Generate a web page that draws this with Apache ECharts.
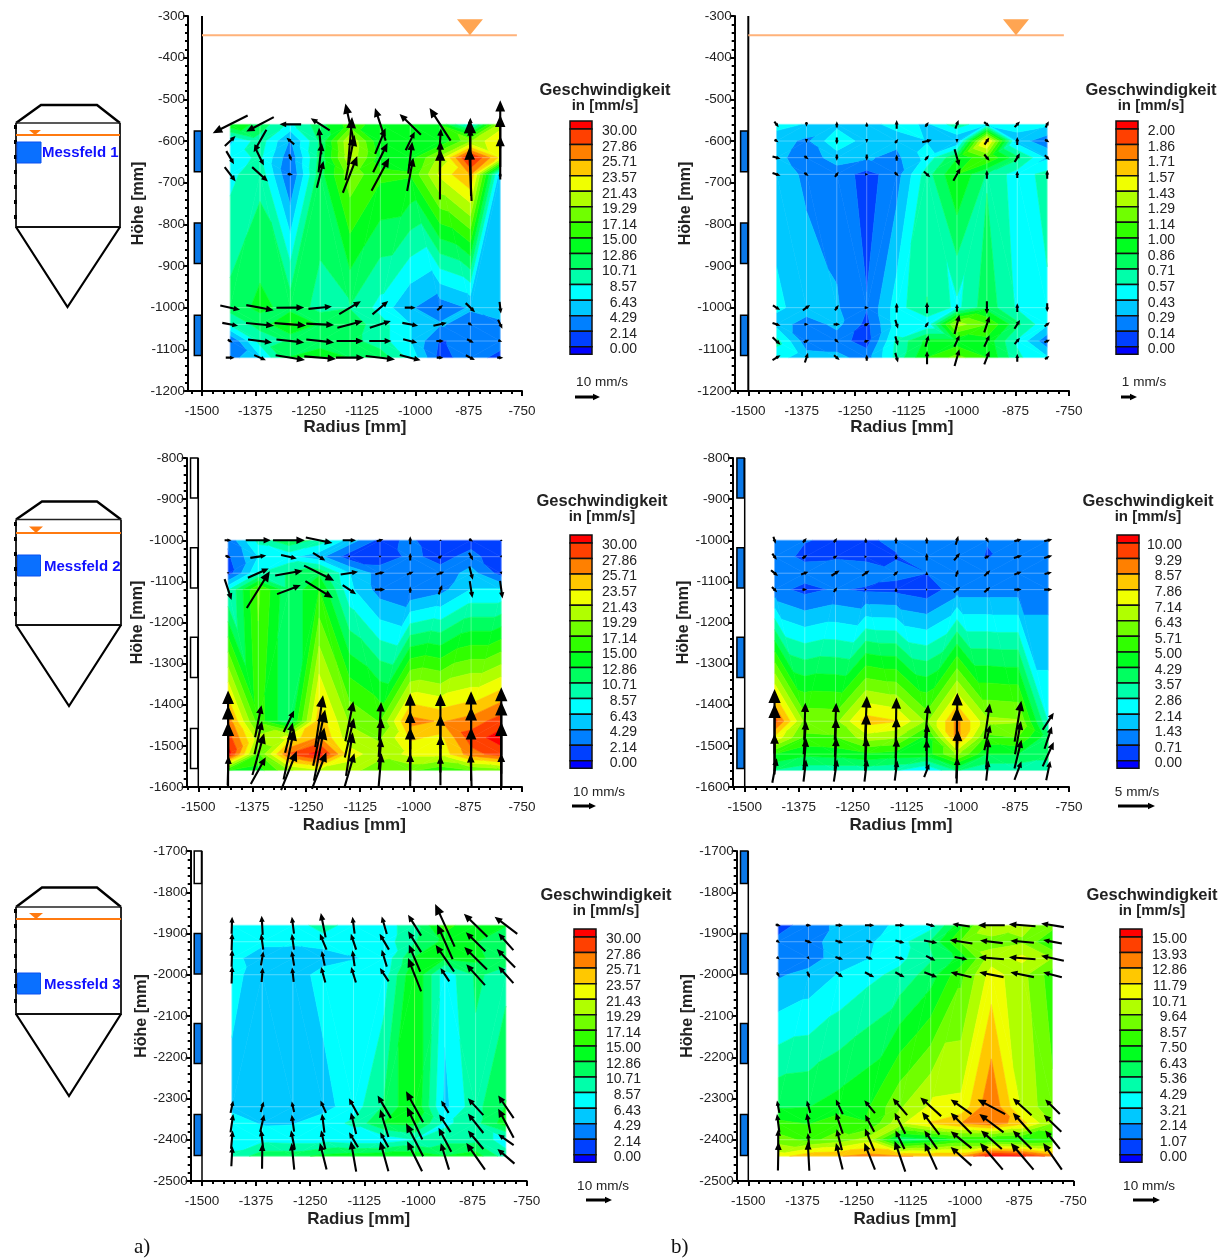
<!DOCTYPE html>
<html><head><meta charset="utf-8">
<style>html,body{margin:0;padding:0;background:#fff}#c{width:1224px;height:1258px}</style>
<script src="https://cdn.jsdelivr.net/npm/echarts@6/dist/echarts.min.js"></script>
</head><body><div id="c"></div>
<script>
// ---- measurement grid ----
const colsTop=[-1434,-1364,-1293,-1223,-1153,-1082,-1012,-942,-871,-801];
const colsRest=[-1431,-1361,-1290,-1220,-1150,-1079,-1009,-939,-868,-798];
const rows1=[-560,-600,-640,-680,-1000,-1040,-1080,-1120];
const rows2=[-1000,-1040,-1080,-1120,-1440,-1480,-1520,-1560];
const rows3=[-1880,-1920,-1960,-2000,-2320,-2360,-2400,-2440];
const xTicks=[-1500,-1375,-1250,-1125,-1000,-875,-750];
// ---- contour colour scale ----
const bandColors=['#0000ff','#0040ff','#0080ff','#00c8ff','#00ffff','#00ffaa','#00ff60','#00ff20','#30ff00','#70ff00','#b0ff00','#f0ff00','#ffc800','#ff8000','#ff4000','#ff0000'];
const legend30=['30.00','27.86','25.71','23.57','21.43','19.29','17.14','15.00','12.86','10.71','8.57','6.43','4.29','2.14','0.00'];
const legend2=['2.00','1.86','1.71','1.57','1.43','1.29','1.14','1.00','0.86','0.71','0.57','0.43','0.29','0.14','0.00'];
const legend10=['10.00','9.29','8.57','7.86','7.14','6.43','5.71','5.00','4.29','3.57','2.86','2.14','1.43','0.71','0.00'];
const legend15=['15.00','13.93','12.86','11.79','10.71','9.64','8.57','7.50','6.43','5.36','4.29','3.21','2.14','1.07','0.00'];
// ---- window positions (mm) ----
const windows1=[[-576,-674],[-797,-894],[-1018,-1115]];
const windows2=[[-800,-897],[-1018,-1116],[-1236,-1334],[-1458,-1555]];
const windows3=[[-1700,-1779],[-1900,-1998],[-2118,-2215],[-2339,-2438]];
// ---- speed field, rows top to bottom (mm/s) ----
const field1a=[[14.7,12,8,12,16,14,14,14.5,7,20],[6,9.7,4,11,21.5,13,13,13,19,24],[7.5,9,2.7,11.5,21,14,14,20,31,23],[8,10,2,12,18.5,15.5,15.2,22,26,5],[11.5,13.5,12,10,10.6,7.8,4.5,3,4.5,5],[9,11.5,15.5,12.5,12,9.5,6.5,4.5,3.5,4],[2,9.5,11,11.5,11.5,9.5,6.5,1.9,3,3],[3.5,6,13,14.5,12.8,12,8,1.5,3,1.5]];
const field1b=[[.47,.42,.38,.36,.5,.4,.66,.44,.5,.45],[.36,.25,.55,.35,.32,.42,.28,1.65,.35,.2],[.32,.22,.34,.3,.25,.48,.85,1.15,.75,.4],[.38,.25,.22,.09,.22,.65,1,.7,.5,.62],[.45,.38,.3,.15,.5,.72,.53,.8,.55,.55],[.38,.2,.33,.1,.5,.45,1.35,1.15,.75,.45],[.62,.2,.2,.08,.6,.9,.9,.95,.55,.18],[.48,.35,.33,.22,.62,1,1.2,1,.6,.45]];
const field2a=[[2.5,9.3,12.5,10,5.5,1.5,2.5,.7,1.3,1],[1.8,6.5,7,5,1,.9,2.6,1.5,2.8,.8],[1,8.5,11,12.5,6.5,3.3,2.5,2.8,5.2,1.2],[8.3,17.5,11,15,7,3.3,2.3,3.5,6.5,6.5],[27,16,11,25,19,17,26.5,25.5,26.6,29],[29,20,22,26,20,19,24,23,29,31],[31,17,28,31,22.5,20,22,22,27,29],[15,14,19,21,20,18,17.5,15.5,17,18]];
const field2b=[[1,.75,.6,.65,.8,.9,1.2,.75,1,1.15],[1.05,.55,.6,.5,.68,1,1.25,.65,1.2,1.15],[1.2,1.05,1.3,1.2,.85,.72,1,1.15,1.1,1.05],[.95,.5,.8,.6,.55,.3,1.1,1.1,1.1,1.1],[9.6,6.25,6.2,8.2,7.9,6.3,8.8,6.6,6.5,2.8],[7.7,5.5,5.6,6.8,6.5,4.6,8.8,5.5,5.7,3.8],[5,4.5,4.6,4.9,4.7,4.6,6.6,4.3,4.3,3.9],[3.5,3.1,3.1,3.1,2.9,2.1,3.6,3,3,3]];
const field3a=[[7,7.3,7,10,7,7.5,10,16,13,13],[6.8,6.7,6.7,7,7,7.5,10.5,13.5,13,11],[6.8,5.8,5.6,5.7,6.3,7,13,13,13.5,11.5],[7,5.5,5.5,7.1,7.3,7.5,15,7.2,11,10],[5.8,4.8,4.8,5.7,7.5,11,15,5.8,10,13],[7.5,6.2,6.3,7.5,9,13,13.5,8,10,14],[7.5,7.8,7.6,7.6,7,7,8.5,10,10,7.5],[9,12,12,13.5,14,14.5,14.5,13,14,9.5]];
const field3b=[[.6,1.6,2.4,2.9,3.4,3.8,7.2,10.5,10,9],[1.4,1.6,2.8,3.1,3.8,5.5,8.7,9.2,9.5,7.5],[1.4,1.6,2.7,3.2,4,5.2,6.8,10.2,11,9.6],[2,2.5,3.3,4,4.6,5.9,8.3,11.2,10,8],[6.3,6.4,6.9,7.5,9.5,10.9,11,13.8,10.5,8.8],[7.8,7.4,8.2,7.6,10.5,11.9,12.8,13.6,12.2,9.6],[9,8.3,9,10.2,5.5,6.3,7.5,7.5,7.2,7.5],[11.3,12.6,12.8,13.3,12.9,12.8,12.8,15.6,15.2,13.5]];
// ---- velocity components, radial (u) and vertical (w), mm/s ----
const u1a=[[-13.1,-10.3,-8.1,-7.1,-3.5,-4,-8,-7.9,0,0],[4,-4.8,-2.9,-.9,1.5,3.9,3.4,.6,0,0],[2.9,2.9,.9,1.2,3.4,5.4,1.5,.2,-.5,0],[4.1,5.9,2,2.5,5.4,6.6,2.3,.1,-.9,0],[7.4,10.3,10.4,8.8,8.1,5.9,4.1,2.1,3.5,.5],[5.9,10.5,11.8,10.4,9.5,7.9,5.9,5,1.6,1.6],[1.8,9,10.4,10.4,10.1,8.3,5.3,2.8,2.5,1.5],[3.3,4.4,11,11.9,10.6,11,7.8,2.5,3.4,2.3]];
const w1a=[[-6.6,-5.4,0,4.5,15.6,12.2,7.8,12.2,5,18],[3.8,-8.4,2.5,10,18,9.6,6.9,9.4,9.5,19.4],[-4.9,-5.9,-2.5,11,16.9,10.9,11.9,12.5,28.7,16.3],[-5.4,-5.4,-.3,10,13.8,12.3,12.5,18.8,20,2],[-1.6,-1.9,.1,.9,4.9,5,0,2,-3.4,-4.4],[-1.1,-1,-.9,-.5,2.5,2.5,-1.1,1.1,-1,-3.4],[-1.1,-1.1,-1.1,-1.1,0,0,-1.3,0,-1.3,-.5],[0,-1.9,-1.8,-1,0,-1.3,-2,0,-1.8,0]];
const u1b=[[.27,0,0,0,0,.2,.2,.35,.33,.2],[.25,0,0,0,.2,.6,0,.3,0,.27],[.5,.27,0,0,0,.25,.3,.33,.33,.3],[.5,.27,.23,.2,.25,.4,.45,0,0,0],[.45,.45,.23,.27,0,0,0,0,0,0],[.5,.27,.4,.3,.17,.2,.3,.33,.35,.33],[.5,.33,.25,.3,.17,.2,.33,.33,.33,.35],[.5,.2,.35,0,.17,0,.3,.33,0,.27]];
const w1b=[[-.35,-.3,.4,.3,.55,.3,.55,-.27,.35,.4],[-.17,-.25,-.45,-.25,.25,.17,-.25,.45,.5,-.17],[-.15,-.2,-.4,-.4,.4,.3,-1.05,-.4,.55,-.3],[-.17,-.2,.33,0,-.25,-.35,.8,.55,.45,.55],[-.3,.33,.33,0,.6,.7,.5,-.8,.55,-.55],[-.17,0,0,.15,-.55,.33,1.2,1,.55,.27],[-.48,.15,-.22,.1,-.58,.72,.72,.72,.4,.17],[.3,.6,-.3,.4,-.6,.83,1.05,.83,.5,.2]];
const u2a=[[2.6,9.4,11.9,10,5,2.5,0,0,1.5,0],[2,6,5.9,4.6,.5,0,0,1.5,1.5,.5],[0,7.8,10.3,11.3,6.5,3.5,2.5,2.9,1.3,.3],[2.6,8.6,8.9,10.3,5,3.8,0,1.3,1,.9],[0,2.4,3.9,2.9,3,.8,0,0,0,0],[0,2.8,2.9,4.5,3.4,1,0,0,0,0],[0,4.4,4,3.9,2.5,.9,0,0,0,0],[.3,5.6,5.9,5.4,3.8,1.1,0,0,-.4,0]];
const w2a=[[0,0,0,-2,0,.7,3,.6,-.9,.5],[-.8,.9,-1.3,-2.8,-.5,-.7,2.8,1,-2.9,-.5],[-.7,3.5,1.8,-5.6,1,.9,1.1,1.1,-5,-1],[-7.8,13.8,3.4,-6.3,-3.4,0,2.4,3.5,-6.3,-6.6],[23,12,8.1,19.4,15,14.4,21,20.6,22.5,25.4],[24,12.5,11.3,21,14.8,14.4,20,16.9,23,27],[24,15.6,19,20,16.3,11.6,20,13.8,20,24],[11,10,14.6,13.8,13,13,13,11,12.5,13]];
const u2b=[[.3,.5,.45,0,0,0,.35,.4,1,1.1],[.6,.65,.55,.35,0,0,.8,.7,1.1,1.1],[.95,1,1.1,1,.6,0,.3,.8,1,1],[.7,.65,.45,.3,0,.2,.85,.8,1,1.1],[0,.15,.2,.3,.1,.4,.1,.7,.9,1.5],[0,.3,.15,.15,.1,.15,0,.8,.8,1],[0,.35,.2,.2,.15,0,.2,.3,.95,1.5],[.6,.35,.45,.35,.35,.7,.1,.3,.95,.55]];
const w2b=[[-.95,.6,.6,.7,.9,.9,1.2,-.7,.3,.3],[-.85,.45,.35,0,.7,1,1,.35,.35,.35],[-.8,.35,.7,.7,.6,.5,.95,.8,.4,.25],[-.7,0,.65,0,.6,0,.75,.7,0,0],[8.7,5,5,6.8,6.4,4.5,7.7,4.8,5.5,2.3],[9.1,4.5,5.2,6.6,5.5,3.6,8.2,3.4,4.5,3],[5.5,4.3,4.5,4.5,4.3,3.9,6.6,4.1,3.9,3.3],[3.3,3,3,3,2.7,1.8,3.5,2.7,2.5,2.6]];
const u3a=[[.2,-.4,-.8,-1.8,-.8,-1.9,-4.9,-7.3,-8.8,-8.5],[.2,-.8,-.8,-2.5,-2,-3.5,-4.9,-5.8,-7.3,-5.6],[.2,.9,-.9,-1.1,-.8,-1.9,-4.3,-6.9,-8.5,-6.9],[.2,.4,-.6,-1.6,-1.8,-3.3,-4.9,-3.3,-7,-5.6],[1,1.1,-.9,-2.1,-3.5,-5,-6.4,-2.8,-5.8,-5.8],[1,1.5,-.9,-.9,-2,-3.1,-5.8,-4.3,-5.8,-5.8],[.6,-.9,-1.4,-1.6,-3.4,-3.1,-6.4,-4.8,-5.8,-5.8],[.4,.1,-1,-2.5,-2,-3.1,-5.6,-3.1,-7,-6.4]];
const w3a=[[6.4,7.2,6.3,9.1,6.3,6.6,7.8,16,8.6,6.4],[6.3,5.9,5.9,5.9,5.9,5.9,7.8,13,7.1,6.3],[6.3,5.3,5.5,5.5,5.9,6.3,10.1,10,8.4,6.9],[6.5,5.4,5.4,5.8,5.8,5,12.5,5,7.8,6.3],[4.6,4,4,4.6,6.3,8.5,11.6,4.6,6.3,8.5],[6.9,6.6,6.3,7.1,8.1,10.3,12.1,6.6,7.3,10.9],[6.9,7.5,7.1,7.1,5.6,5.6,12.3,8.9,6.9,4.1],[7.5,9.4,10,10,11.5,11.3,11.3,10,10,5.5]];
const u3b=[[1.9,2,2.8,3.5,3.5,3.4,-6.5,-10,-10,-8.5],[1.3,2.6,2.9,2.5,3.4,5,-8.5,-8.5,-8.8,-7],[1,.8,2.9,2.5,3.4,3.5,4.8,-9.4,-10,-8.5],[.9,1,2.8,3.5,3.5,4.8,-7.8,-9.1,-8.8,-7],[-.9,-1.3,-2.6,-4,-5.4,-7.8,-7.8,-10.3,-7,-5.5],[-.9,-1.3,-2.6,-3.4,-4,-6.5,-7.8,-9.1,-7,-6.6],[0,-.5,-2,-3.5,-3.4,-4.8,-7.8,-7.8,-7,-5.5],[.2,-.6,-2.5,-4,-4,-4.6,-7.8,-8.5,-8.5,-7]];
const w3b=[[-.5,0,0,0,0,-.9,1,0,.8,1.4],[-1,-.9,-1,-.9,-1,-1,1.3,1,.8,1.3],[-1,-1,-1,-1,-1,-1.8,-1,.8,.8,1.9],[-1.8,-2.4,-1.9,-1.9,-1.9,-1.8,1.8,1.8,1.8,1.8],[4.6,4.6,5.5,4.8,6.3,7,5.5,5.5,6.3,5.5],[6.9,7.5,7.8,6.3,7.9,8.5,7.8,6.9,7.9,6.3],[7.9,5,7.9,8.4,6.9,6.9,6.3,6.9,6.9,6.9],[10.6,10.9,10,10,11.5,10,7,10,10,10]];

// ---- layout of the six panels ----
const panels=[
 {field:field1a,u:u1a,w:w1a,cols:colsTop,rows:rows1,win:windows1,winFill:[1,1,1],yMin:-1200,yMax:-300,left:188,wall:202,right:522,top:16,bottom:391,xGap:28,yGap:41,max:30,arrow:2.67,legend:legend30,cx:605,ty:90,barX:570,barY:121,labR:637,refTxt:'10 mm/s',refX:602,refY:382,refA:[575,600],refAy:397,water:[-346,-872]},
 {field:field1b,u:u1b,w:w1b,cols:colsTop,rows:rows1,win:windows1,winFill:[1,1,1],yMin:-1200,yMax:-300,left:734.7,wall:748.3,right:1069,top:16,bottom:391,xGap:28,yGap:41,max:2,arrow:16,legend:legend2,cx:1151,ty:90,barX:1116,barY:121,labR:1175,refTxt:'1 mm/s',refX:1144,refY:382,refA:[1121,1137],refAy:397,water:[-346,-874]},
 {field:field2a,u:u2a,w:w2a,cols:colsRest,rows:rows2,win:windows2,winFill:[0,0,0,0],yMin:-1600,yMax:-800,left:186.7,wall:198.3,right:522,top:458,bottom:787,xGap:30,yGap:40,max:30,arrow:2.67,legend:legend30,cx:602,ty:501,barX:570,barY:535,labR:637,refTxt:'10 mm/s',refX:599,refY:792,refA:[572,596],refAy:806},
 {field:field2b,u:u2b,w:w2b,cols:colsRest,rows:rows2,win:windows2,winFill:[1,1,1,1],yMin:-1600,yMax:-800,left:733,wall:744.7,right:1069,top:458,bottom:787,xGap:30,yGap:40,max:10,arrow:7.4,legend:legend10,cx:1148,ty:501,barX:1117,barY:535,labR:1182,refTxt:'5 mm/s',refX:1137,refY:792,refA:[1118,1155],refAy:806},
 {field:field3a,u:u3a,w:w3a,cols:colsRest,rows:rows3,win:windows3,winFill:[0,1,1,1],yMin:-2500,yMax:-1700,left:190.7,wall:202,right:526.7,top:851,bottom:1181,xGap:30,yGap:40,max:30,arrow:2.67,legend:legend30,cx:606,ty:895,barX:574,barY:929,labR:641,refTxt:'10 mm/s',refX:603,refY:1186,refA:[586,612],refAy:1200},
 {field:field3b,u:u3b,w:w3b,cols:colsRest,rows:rows3,win:windows3,winFill:[1,1,1,1],yMin:-2500,yMax:-1700,left:736.7,wall:748.3,right:1073.3,top:851,bottom:1181,xGap:30,yGap:40,max:15,arrow:2.67,legend:legend15,cx:1152,ty:895,barX:1120,barY:929,labR:1187,refTxt:'10 mm/s',refX:1149,refY:1186,refA:[1133,1160],refAy:1200}
];

// clip a triangle (x,y,v vertices) to lo<=v<=hi
function clip(poly,test,lim){
  const out=[];
  for(let i=0;i<poly.length;i++){
    const a=poly[i],b=poly[(i+1)%poly.length];
    const ia=test*(a[2]-lim)>=0,ib=test*(b[2]-lim)>=0;
    if(ia)out.push(a);
    if(ia!==ib){const t=(lim-a[2])/(b[2]-a[2]);out.push([a[0]+t*(b[0]-a[0]),a[1]+t*(b[1]-a[1]),lim]);}
  }
  return out;
}
function contourPolys(p){
  const polys=[],step=p.max/14,F=p.field,X=p.cols,Y=p.rows;
  const addTri=(t)=>{
    const vs=t.map(q=>q[2]),mn=Math.min(...vs),mx=Math.max(...vs);
    for(let b=0;b<16;b++){
      const lo=b===0?-1e9:(b-1)*step,hi=b===15?1e9:b*step;
      if(mx<lo||mn>hi)continue;
      let q=clip(t,1,lo);if(q.length)q=clip(q,-1,hi);
      if(q.length>=3)polys.push({b,pts:q});
    }
  };
  for(let r=0;r<Y.length-1;r++)for(let c=0;c<X.length-1;c++){
    const A=[X[c],Y[r],F[r][c]],B=[X[c+1],Y[r],F[r][c+1]],C=[X[c+1],Y[r+1],F[r+1][c+1]],D=[X[c],Y[r+1],F[r+1][c]];
    if(Math.abs(A[2]-C[2])<=Math.abs(B[2]-D[2])){addTri([A,B,C]);addTri([A,C,D]);}
    else{addTri([A,B,D]);addTri([B,C,D]);}
  }
  return polys;
}
function arrowPts(x0,y0,x1,y1,sw,flat){
  const dx=x1-x0,dy=y1-y0,L=Math.hypot(dx,dy)||.01,ux=dx/L,uy=dy/L,nx=-uy,ny=ux;
  let hl=Math.min(L,14,L*.17+3),hw=Math.max(hl*.44,sw/2+.4);
  if(flat){hl=7;hw=3.2;}
  const s=sw/2;
  const bx=x1-ux*hl,by=y1-uy*hl;
  return [[x0+nx*s,y0+ny*s],[bx+nx*s,by+ny*s],[bx+nx*hw,by+ny*hw],[x1,y1],[bx-nx*hw,by-ny*hw],[bx-nx*s,by-ny*s],[x0-nx*s,y0-ny*s]];
}

const grids=[],xAxes=[],yAxes=[],series=[],gfx=[];
panels.forEach((p,i)=>{
  const scale=(p.right-p.wall)/750,xMin=-1500-(p.wall-p.left)/scale;
  grids.push({left:p.left,top:p.top,width:p.right-p.left,height:p.bottom-p.top,containLabel:false});
  const lab={color:'#222',fontFamily:'Liberation Sans',fontSize:13.5};
  const minors=[];for(let v=-1525;v<-750;v+=25)if(!xTicks.includes(v))minors.push(v);
  xAxes.push({type:'value',gridIndex:i,position:'bottom',min:xMin,max:-750,name:'Radius [mm]',nameLocation:'middle',nameGap:p.xGap,
    nameTextStyle:{fontFamily:'Liberation Sans',fontWeight:'bold',fontSize:17,color:'#222'},
    axisLine:{onZero:false,lineStyle:{color:'#000',width:2}},splitLine:{show:false},
    axisTick:{show:true,length:5,customValues:xTicks,lineStyle:{color:'#000',width:2}},
    axisLabel:{show:true,customValues:xTicks,formatter:v=>String(v),margin:13,showMinLabel:true,showMaxLabel:true,hideOverlap:false,...lab}});
  xAxes.push({type:'value',gridIndex:i,position:'bottom',min:xMin,max:-750,axisLine:{show:false},splitLine:{show:false},
    axisLabel:{show:false},axisTick:{show:true,length:3,customValues:minors,lineStyle:{color:'#000',width:2}}});
  yAxes.push({type:'value',gridIndex:i,position:'left',min:p.yMin,max:p.yMax,interval:100,name:'Höhe [mm]',nameLocation:'middle',nameGap:p.yGap,
    nameTextStyle:{fontFamily:'Liberation Sans',fontWeight:'bold',fontSize:16,color:'#222'},
    axisLine:{onZero:false,lineStyle:{color:'#000',width:2}},splitLine:{show:false},
    axisTick:{length:5,lineStyle:{color:'#000',width:2}},
    minorTick:{show:true,splitNumber:5,length:3,lineStyle:{color:'#000',width:2}},
    axisLabel:{formatter:v=>String(v),margin:3,padding:[2,0,0,0],showMinLabel:true,showMaxLabel:true,...lab}});
  const ax={xAxisIndex:2*i,yAxisIndex:i,silent:true,animation:false};
  // contour bands
  const polys=contourPolys(p);
  series.push({type:'custom',...ax,z:2,data:polys.map((q,k)=>[q.pts[0][0],q.pts[0][1],k]),
    renderItem:(par,api)=>{const q=polys[par.dataIndex];const col=bandColors[q.b];
      return {type:'polygon',shape:{points:q.pts.map(a=>api.coord([a[0],a[1]]))},style:{fill:col,stroke:col,lineWidth:.6}};}});
  // faint measurement grid
  const lines=[];
  p.cols.forEach(x=>lines.push([x,p.rows[0],x,p.rows[7]]));
  p.rows.forEach(y=>lines.push([p.cols[0],y,p.cols[9],y]));
  series.push({type:'custom',...ax,z:3,data:lines,renderItem:(par,api)=>{
    const a=api.coord([api.value(0),api.value(1)]),b=api.coord([api.value(2),api.value(3)]);
    return {type:'line',shape:{x1:a[0],y1:a[1],x2:b[0],y2:b[1]},style:{stroke:'rgba(255,255,255,.3)',lineWidth:1}};}});
  // tank wall, windows, water level
  const winData=p.win.map((w,k)=>[-1518,w[0],-1500,w[1],p.winFill[k]]);
  series.push({type:'custom',...ax,z:4,data:winData,renderItem:(par,api)=>{
    const a=api.coord([api.value(0),api.value(1)]),b=api.coord([api.value(2),api.value(3)]);
    return {type:'rect',shape:{x:a[0],y:a[1],width:b[0]-a[0]-.5,height:b[1]-a[1]},style:{fill:api.value(4)?'#0a78e8':'#fff',stroke:'#000',lineWidth:1.5}};}});
  series.push({type:'custom',...ax,z:4,data:[[-1500,p.yMax,-1500,p.yMin]],renderItem:(par,api)=>{
    const a=api.coord([api.value(0),api.value(1)]),b=api.coord([api.value(2),api.value(3)]);
    return {type:'line',shape:{x1:a[0],y1:a[1],x2:b[0],y2:b[1]},style:{stroke:'#000',lineWidth:i<2?2:1.5}};}});
  if(p.water){
    series.push({type:'custom',...ax,z:4,data:[[-1500,p.water[0],-762,p.water[0],p.water[1]]],renderItem:(par,api)=>{
      const a=api.coord([api.value(0),api.value(1)]),b=api.coord([api.value(2),api.value(3)]),t=api.coord([api.value(4),api.value(1)]);
      return {type:'group',children:[
        {type:'line',shape:{x1:a[0],y1:a[1],x2:b[0],y2:b[1]},style:{stroke:'#ffb27a',lineWidth:2}},
        {type:'polygon',shape:{points:[[t[0],t[1]],[t[0]-13,t[1]-16],[t[0]+13,t[1]-16]]},style:{fill:'#ffa552'}}]};}});
  }
  // velocity arrows
  const arr=[];
  p.rows.forEach((y,r)=>p.cols.forEach((x,c)=>arr.push([x,y,p.u[r][c],p.w[r][c]])));
  series.push({type:'custom',...ax,z:6,data:arr,renderItem:(par,api)=>{
    const n=api.coord([api.value(0),api.value(1)]);
    const dx=api.value(2)*p.arrow,dy=-api.value(3)*p.arrow;
    return {type:'polygon',shape:{points:arrowPts(n[0]-dx/2,n[1]-dy/2,n[0]+dx/2,n[1]+dy/2,2.1)},style:{fill:'#000'}};}});
  // legend
  const T=(text,x,y,o)=>gfx.push({type:'text',x,y,z:20,style:Object.assign({text,fontFamily:'Liberation Sans',fontSize:14,fill:'#222',verticalAlign:'middle',align:'center'},o)});
  T('Geschwindigkeit',p.cx,p.ty,{fontWeight:'bold',fontSize:16.5});
  T('in [mm/s]',p.cx,p.ty+16,{fontWeight:'bold',fontSize:15});
  const w=22,st=15.56;
  const rect=(y,h,c)=>gfx.push({type:'rect',z:20,shape:{x:p.barX,y,width:w,height:h},style:{fill:c,stroke:'#111',lineWidth:1.5}});
  rect(p.barY,8,bandColors[15]);
  for(let k=0;k<14;k++)rect(p.barY+8+k*st,st,bandColors[14-k]);
  rect(p.barY+8+14*st,7.5,bandColors[0]);
  p.legend.forEach((t,k)=>T(t,p.labR,p.barY+10.5+k*st,{align:'right'}));
  T(p.refTxt,p.refX,p.refY,{fontSize:13.5});
  gfx.push({type:'polygon',z:20,shape:{points:arrowPts(p.refA[0],p.refAy,p.refA[1],p.refAy,2.8,true)},style:{fill:'#000'}});
});
// tank schematics
const tanks=[
 {l:16,r:120,shX:[41,97],dome:105,line:123,water:135,tri:[29,41,130],bot:227,tipX:67.5,tip:307,box:[17,41,142,163],txt:'Messfeld 1',tx:42,ty:153,dash:[125,226]},
 {l:16,r:121,shX:[42,97],dome:501.5,line:519.5,water:533,tri:[29,43,526.5],bot:625,tipX:69,tip:706,box:[17.5,40.5,555,576],txt:'Messfeld 2',tx:44,ty:567,dash:[522,625]},
 {l:16,r:121,shX:[42,97],dome:887.5,line:907,water:919,tri:[29,43,913],bot:1014,tipX:69,tip:1096,box:[17.5,40.5,973,994],txt:'Messfeld 3',tx:44,ty:985,dash:[909,1014]}
];
tanks.forEach(t=>{
  const P=(pts,c,w)=>gfx.push({type:'polyline',z:20,shape:{points:pts},style:{stroke:c,lineWidth:w,fill:null}});
  P([[t.l,t.line],[t.shX[0],t.dome],[t.shX[1],t.dome],[t.r,t.line]],'#000',2.4);
  P([[t.l,t.line],[t.r,t.line]],'#222',1.6);
  P([[t.l,t.line],[t.l,t.bot],[t.r,t.bot],[t.r,t.line]],'#111',1.8);
  P([[t.l,t.bot],[t.tipX,t.tip],[t.r,t.bot]],'#000',2.2);
  gfx.push({type:'line',z:20,shape:{x1:t.l-.5,y1:t.dash[0],x2:t.l-.5,y2:t.dash[1]},style:{stroke:'#000',lineWidth:3,lineDash:[4,11]}});
  P([[t.l,t.water],[t.r,t.water]],'#ff7a10',2);
  gfx.push({type:'polygon',z:21,shape:{points:[[t.tri[0],t.tri[2]],[t.tri[1],t.tri[2]],[(t.tri[0]+t.tri[1])/2,t.water]]},style:{fill:'#ff7a10'}});
  gfx.push({type:'rect',z:21,shape:{x:t.box[0],y:t.box[2],width:t.box[1]-t.box[0],height:t.box[3]-t.box[2]},style:{fill:'#0a70ff',stroke:'#0a50f0',lineWidth:1}});
  gfx.push({type:'text',z:21,x:t.tx,y:t.ty,style:{text:t.txt,fontFamily:'Liberation Sans',fontWeight:'bold',fontSize:15,fill:'#1010ff',verticalAlign:'middle'}});
});
gfx.push({type:'text',z:21,x:134,y:1247,style:{text:'a)',fontFamily:'Liberation Serif',fontSize:21,fill:'#111',verticalAlign:'middle'}});
gfx.push({type:'text',z:21,x:671,y:1247,style:{text:'b)',fontFamily:'Liberation Serif',fontSize:21,fill:'#111',verticalAlign:'middle'}});

const chart=echarts.init(document.getElementById('c'),null,{renderer:'canvas'});
chart.setOption({animation:false,backgroundColor:'#fff',grid:grids,xAxis:xAxes,yAxis:yAxes,series,graphic:{elements:gfx}});
</script></body></html>
